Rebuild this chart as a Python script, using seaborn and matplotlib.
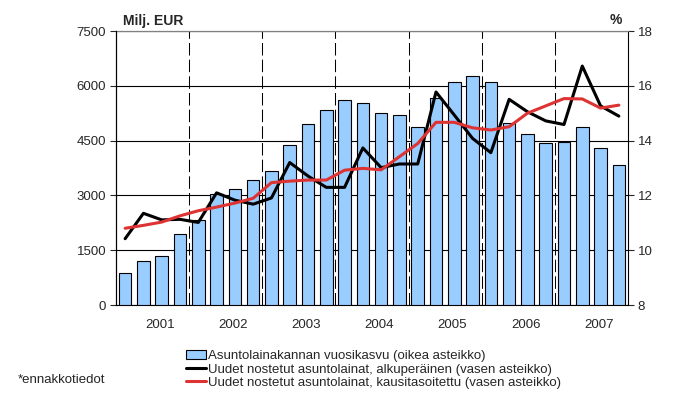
import numpy as np
import pandas as pd
import matplotlib
matplotlib.use("Agg")
import matplotlib.pyplot as plt
import seaborn as sns
from matplotlib.patches import Patch
from matplotlib.lines import Line2D

# neljännekset 2001Q1 - 2007Q4
quarters = [f"{y}Q{q}" for y in range(2001, 2008) for q in range(1, 5)]
years = ["2001", "2002", "2003", "2004", "2005", "2006", "2007"]

# asuntolainakannan vuosikasvu, % (oikea asteikko)
growth = [9.16, 9.61, 9.78, 10.59, 11.10, 12.05, 12.22, 12.55,
          12.88, 13.83, 14.59, 15.10, 15.47, 15.36, 15.00, 14.92,
          14.49, 15.54, 16.13, 16.35, 16.13, 14.65, 14.23, 13.90,
          13.95, 14.50, 13.72, 13.11]

# uudet nostetut asuntolainat, milj. EUR (vasen asteikko)
original = [1815, 2510, 2330, 2345, 2260, 3070, 2870, 2760,
            2930, 3900, 3530, 3220, 3220, 4300, 3760, 3860,
            3860, 5830, 5200, 4560, 4170, 5630, 5290, 5040,
            4940, 6540, 5450, 5170]
seasonal = [2100, 2180, 2270, 2440, 2580, 2680, 2790, 2920,
            3350, 3390, 3420, 3420, 3690, 3740, 3700, 4060,
            4420, 5000, 5000, 4850, 4790, 4880, 5250, 5450,
            5650, 5640, 5390, 5470]

labels = ["Asuntolainakannan vuosikasvu (oikea asteikko)",
          "Uudet nostetut asuntolainat, alkuperäinen (vasen asteikko)",
          "Uudet nostetut asuntolainat, kausitasoitettu (vasen asteikko)"]

BAR = "#99CCFF"
RED = "#DD3333"

sns.set_style("ticks")
plt.rcParams['font.family'] = ['Liberation Sans', 'DejaVu Sans']
plt.rcParams['font.size'] = 9.5

df = pd.DataFrame({'quarter': quarters, 'growth': growth,
                   'original': original, 'seasonal': seasonal})
df['pos'] = np.arange(len(df))

fig = plt.figure(figsize=(6.93, 3.99), dpi=100)
ax = fig.add_axes([116/693, 1-305/399, 512/693, 274/399])

# pylväät oikealle asteikolle
sns.barplot(data=df, x='quarter', y='growth', ax=ax, color=BAR,
            saturation=1, width=0.68, edgecolor='black', linewidth=0.8)

# viivat vasemmalle asteikolle
axl = ax.twinx()
sns.lineplot(data=df, x='pos', y='original', ax=axl, color='black',
             linewidth=2.2)
sns.lineplot(data=df, x='pos', y='seasonal', ax=axl, color=RED,
             linewidth=2.2)

ax.set_ylim(8, 18)
ax.set_yticks(np.arange(8, 19, 2))
ax.yaxis.tick_right()
ax.yaxis.set_label_position('right')
ax.set_xlim(-0.5, len(df) - 0.5)
ax.set_xlabel("")
ax.set_ylabel("")
ax.set_axisbelow(True)
ax.yaxis.grid(True, color='black', linewidth=0.8)

# vuosien rajat katkoviivoilla
ax.set_xticks(np.arange(3.5, len(df) - 1, 4), minor=True)
ax.xaxis.grid(True, which='minor', color='black', linewidth=0.75,
              linestyle=(0, (12, 4)))
ax.set_xticks(np.arange(1.9, len(df), 4))
ax.set_xticklabels(years)
ax.tick_params(axis='x', which='both', length=0, pad=10)
ax.tick_params(axis='y', length=4, width=0.8, pad=3)
for s in ['left', 'right', 'bottom']:
    ax.spines[s].set_color('black')
    ax.spines[s].set_linewidth(0.8)
    ax.spines[s].set_visible(True)
ax.spines['top'].set_color('#808080')
ax.spines['top'].set_linewidth(0.9)

axl.set_ylim(0, 7500)
axl.set_yticks(np.arange(0, 7501, 1500))
axl.yaxis.tick_left()
axl.yaxis.set_label_position('left')
axl.set_xlim(-0.5, len(df) - 0.5)
axl.set_xlabel("")
axl.set_ylabel("")
axl.tick_params(axis='y', length=4, width=0.8, pad=3)
for s in axl.spines.values():
    s.set_visible(False)
axl.spines['left'].set_visible(True)
axl.spines['left'].set_color('black')
axl.spines['left'].set_linewidth(0.8)

fig.text(123/693, 1-21/399, "Milj. EUR", fontweight='bold', va='center',
         ha='left', fontsize=10)
fig.text(622/693, 1-20/399, "%", fontweight='bold', va='center',
         ha='right', fontsize=10)

handles = [Patch(facecolor=BAR, edgecolor='black', linewidth=0.8),
           Line2D([], [], color='black', linewidth=2.2),
           Line2D([], [], color=RED, linewidth=2.2)]
fig.legend(handles=handles, labels=labels, loc='upper left',
           bbox_to_anchor=(186/693, 1-350/399), frameon=False,
           borderpad=0, labelspacing=0.08, handlelength=1.5,
           handletextpad=0.2, fontsize=9.5, borderaxespad=0)
fig.text(18/693, 1-380/399, "*ennakkotiedot", va='center', ha='left',
         fontsize=9.5)

fig.savefig("out.png", dpi=100)
